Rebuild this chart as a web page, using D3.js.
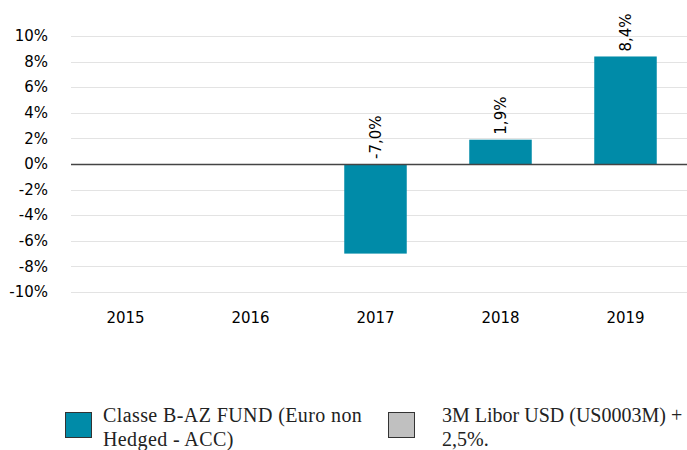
<!DOCTYPE html>
<html>
<head>
<meta charset="utf-8">
<script src="https://d3js.org/d3.v7.min.js"></script>
<style>
  body { margin: 0; background: #fff; }
  svg { display: block; }
</style>
</head>
<body>
<div id="chart"></div>
<script>
// data
var years = ["2015", "2016", "2017", "2018", "2019"];
var fund = [null, null, -7.0, 1.9, 8.4];
var yTicks = [-10, -8, -6, -4, -2, 0, 2, 4, 6, 8, 10];
var legendLabels = [
  ["Classe B-AZ FUND (Euro non", "Hedged - ACC)"],
  ["3M Libor USD (US0003M) +", "2,5%."]
];
var legendColors = ["#008ba8", "#c0c0c0"];

var width = 687, height = 450;

var svg = d3.select("#chart")
  .append("svg")
  .attr("width", width)
  .attr("height", height);

// scales
var x = d3.scaleBand()
  .domain(years)
  .range([63, 688])
  .paddingInner(0.5)
  .paddingOuter(0.25);

var y = d3.scaleLinear()
  .domain([-10, 10])
  .range([292, 36]);

// grid lines
svg.append("g")
  .selectAll("line")
  .data(yTicks)
  .enter()
  .append("line")
  .attr("x1", 71)
  .attr("x2", 687)
  .attr("y1", function (d) { return Math.round(y(d)) + 0.5; })
  .attr("y2", function (d) { return Math.round(y(d)) + 0.5; })
  .style("stroke", "#e3e3e3")
  .style("stroke-width", 1);

// y tick labels
svg.append("g")
  .selectAll("text")
  .data(yTicks)
  .enter()
  .append("text")
  .attr("x", 48)
  .attr("y", function (d) { return y(d); })
  .attr("dy", "0.35em")
  .attr("text-anchor", "end")
  .style("font-family", "'DejaVu Sans', sans-serif")
  .style("font-size", "15px")
  .style("fill", "#000")
  .text(function (d) { return d + "%"; });

// x tick labels
svg.append("g")
  .selectAll("text")
  .data(years)
  .enter()
  .append("text")
  .attr("x", function (d) { return x(d) + x.bandwidth() / 2; })
  .attr("y", 323)
  .attr("text-anchor", "middle")
  .style("font-family", "'DejaVu Sans', sans-serif")
  .style("font-size", "15px")
  .style("fill", "#000")
  .text(function (d) { return d; });

var data = years.map(function (d, i) { return { year: d, value: fund[i] }; })
  .filter(function (d) { return d.value !== null; });

// bars
svg.append("g")
  .selectAll("rect")
  .data(data)
  .enter()
  .append("rect")
  .attr("x", function (d) { return x(d.year); })
  .attr("width", x.bandwidth())
  .attr("y", function (d) { return y(Math.max(0, d.value)); })
  .attr("height", function (d) { return Math.abs(y(d.value) - y(0)); })
  .style("fill", legendColors[0]);

// zero line
svg.append("line")
  .attr("x1", 71)
  .attr("x2", 687)
  .attr("y1", Math.round(y(0)) + 0.5)
  .attr("y2", Math.round(y(0)) + 0.5)
  .style("stroke", "#444")
  .style("stroke-width", 1.3);

// value labels (rotated)
svg.append("g")
  .selectAll("text")
  .data(data)
  .enter()
  .append("text")
  .attr("transform", function (d) {
    var cx = x(d.year) + x.bandwidth() / 2 + 5;
    var cy = y(Math.max(0, d.value)) - 5;
    return "translate(" + cx + "," + cy + ") rotate(-90)";
  })
  .attr("text-anchor", "start")
  .style("font-family", "'DejaVu Sans', sans-serif")
  .style("font-size", "15px")
  .style("fill", "#000")
  .text(function (d) { return d.value.toFixed(1).replace(".", ",") + "%"; });

// legend
var boxX = [65, 388];
var textX = [103, 442];
var spacing = ["0.4px", "0px"];
var leg = svg.append("g")
  .selectAll("g")
  .data(legendLabels)
  .enter()
  .append("g");

leg.append("rect")
  .attr("x", function (d, i) { return boxX[i] + 0.5; })
  .attr("y", 412.5)
  .attr("width", 26)
  .attr("height", 25)
  .style("fill", function (d, i) { return legendColors[i]; })
  .style("stroke", "#333")
  .style("stroke-width", 1);

leg.append("text")
  .attr("x", function (d, i) { return textX[i]; })
  .attr("y", 422)
  .style("font-family", "'Liberation Serif', serif")
  .style("font-size", "20px")
  .style("letter-spacing", function (d, i) { return spacing[i]; })
  .style("fill", "#222")
  .text(function (d) { return d[0]; });

leg.append("text")
  .attr("x", function (d, i) { return textX[i]; })
  .attr("y", 446)
  .style("font-family", "'Liberation Serif', serif")
  .style("font-size", "20px")
  .style("letter-spacing", function (d, i) { return spacing[i]; })
  .style("fill", "#222")
  .text(function (d) { return d[1]; });
</script>
</body>
</html>
